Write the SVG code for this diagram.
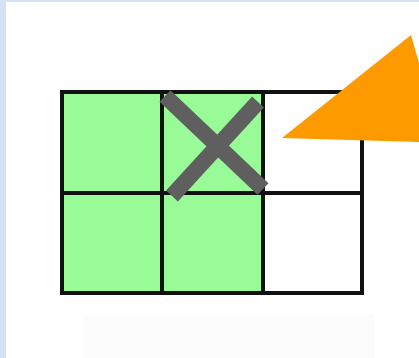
<svg xmlns="http://www.w3.org/2000/svg" width="419" height="358" viewBox="0 0 419 358">
<style>
.cell{stroke:#111;stroke-width:4}
.green{fill:#98fb98}
.white{fill:#fff}
.x{stroke:#5f5f5f;stroke-width:16;stroke-linecap:butt}
</style>
<rect x="0" y="0" width="419" height="358" fill="#d4e3f3"/>
<rect x="6" y="2" width="413" height="356" fill="#fff"/>
<rect x="82" y="315" width="293" height="43" fill="#fcfcfc"/>
<g id="grid">
<rect class="cell green" x="62" y="92" width="100" height="101"/>
<rect class="cell green" x="162" y="92" width="101" height="101"/>
<rect class="cell white" x="263" y="92" width="99" height="101"/>
<rect class="cell green" x="62" y="193" width="100" height="100"/>
<rect class="cell green" x="162" y="193" width="101" height="100"/>
<rect class="cell white" x="263" y="193" width="99" height="100"/>
</g>
<g id="cross">
<line class="x" x1="165" y1="96" x2="263" y2="189"/>
<line class="x" x1="258" y1="102" x2="172" y2="196"/>
</g>
<g id="triangle">
<polygon points="411,35 282,138 419,142 419,63" fill="#fd9a00"/>
</g>
</svg>
